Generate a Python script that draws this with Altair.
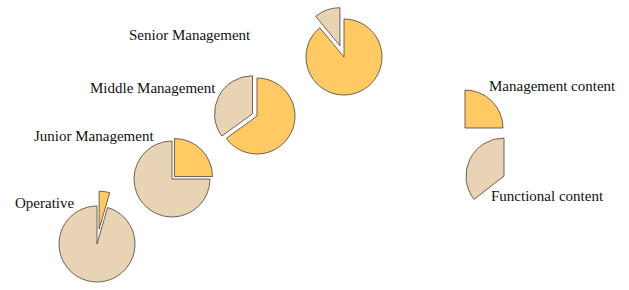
import math

import altair as alt
import pandas as pd

# Share of management vs functional content by organisational level (%)
levels = ["Operative", "Junior Management", "Middle Management", "Senior Management"]
management_share = [4.5, 25, 65, 89]
functional_share = [95.5, 75, 35, 11]
contents = ["Management content", "Functional content"]

# Layout / styling
PIE_X = [97, 172, 257, 344]          # pie centres along the diagonal
PIE_Y = [244, 179, 116, 57]
LABEL_X = [15, 34, 90, 129]
LABEL_Y = [208, 141, 93, 40]
EXPLODE = [15, 3.5, 5, 12]           # pull-out distance of the smaller slice
RADIUS = 38
COLORS = ["#FFC964", "#E8D4B4"]
STROKE = "#4f3f32"
FONT = "Liberation Serif"

# Legend symbols: a slice per content type, and where they sit
LEGEND_ARCS = [(0.0, 90.0), (232.0, 360.0)]   # degrees, clockwise from 12 o'clock
LEGEND_X = [465, 504]
LEGEND_Y = [128, 176]
LEGEND_LABEL_X = [489, 491]
LEGEND_LABEL_Y = [91, 201]

rows = []
for i, lvl in enumerate(levels):
    vals = [management_share[i], functional_share[i]]
    total = sum(vals)
    smaller = vals.index(min(vals))
    start = 0.0
    for j, content in enumerate(contents):
        frac = vals[j] / total
        a0 = start * 2 * math.pi
        a1 = (start + frac) * 2 * math.pi
        mid = (a0 + a1) / 2
        e = EXPLODE[i] if j == smaller else 0.0
        rows.append({
            "idx": i, "level": lvl, "content": content, "value": vals[j],
            "a0": a0, "a1": a1,
            "dx": e * math.sin(mid), "dy": -e * math.cos(mid),
        })
        start += frac
slices = pd.DataFrame(rows)

labels = pd.DataFrame({"idx": list(range(len(levels))), "level": levels})

legend = pd.DataFrame({
    "k": [0, 1],
    "content": contents,
    "a0": [math.radians(a) for a, _ in LEGEND_ARCS],
    "a1": [math.radians(b) for _, b in LEGEND_ARCS],
})

color = alt.Color("content:N", scale=alt.Scale(domain=contents, range=COLORS), legend=None)
idx_dom = list(range(len(levels)))

# the smaller slice of each pie is pulled out along its mid-angle
pies = alt.Chart(slices).mark_arc(
    radius=RADIUS, stroke=STROKE, strokeWidth=0.8,
    xOffset=alt.ExprRef(expr="datum.dx"),
    yOffset=alt.ExprRef(expr="datum.dy"),
).encode(
    x=alt.X("idx:Q", scale=alt.Scale(domain=idx_dom, range=PIE_X), axis=None),
    y=alt.Y("idx:Q", scale=alt.Scale(domain=idx_dom, range=PIE_Y), axis=None),
    theta=alt.Theta("a0:Q", scale=None),
    theta2="a1:Q",
    color=color,
    tooltip=["level:N", "content:N", "value:Q"],
)

level_text = alt.Chart(labels).mark_text(
    font=FONT, fontSize=15, align="left", baseline="alphabetic", color="#111111"
).encode(
    x=alt.X("idx:Q", scale=alt.Scale(domain=idx_dom, range=LABEL_X), axis=None),
    y=alt.Y("idx:Q", scale=alt.Scale(domain=idx_dom, range=LABEL_Y), axis=None),
    text="level:N",
)

legend_arcs = alt.Chart(legend).mark_arc(radius=RADIUS, stroke=STROKE, strokeWidth=0.8).encode(
    x=alt.X("k:Q", scale=alt.Scale(domain=[0, 1], range=LEGEND_X), axis=None),
    y=alt.Y("k:Q", scale=alt.Scale(domain=[0, 1], range=LEGEND_Y), axis=None),
    theta=alt.Theta("a0:Q", scale=None),
    theta2="a1:Q",
    color=color,
)

legend_text = alt.Chart(legend).mark_text(
    font=FONT, fontSize=15, align="left", baseline="alphabetic", color="#111111"
).encode(
    x=alt.X("k:Q", scale=alt.Scale(domain=[0, 1], range=LEGEND_LABEL_X), axis=None),
    y=alt.Y("k:Q", scale=alt.Scale(domain=[0, 1], range=LEGEND_LABEL_Y), axis=None),
    text="content:N",
)

chart = (
    alt.layer(pies, level_text, legend_arcs, legend_text)
    .resolve_scale(x="independent", y="independent")
    .properties(
        width=629, height=290, padding=0,
        autosize=alt.AutoSizeParams(type="none"),
        background="white",
    )
    .configure_view(stroke=None)
)

chart.save("out.html", embed_options={"renderer": "svg", "actions": False})
